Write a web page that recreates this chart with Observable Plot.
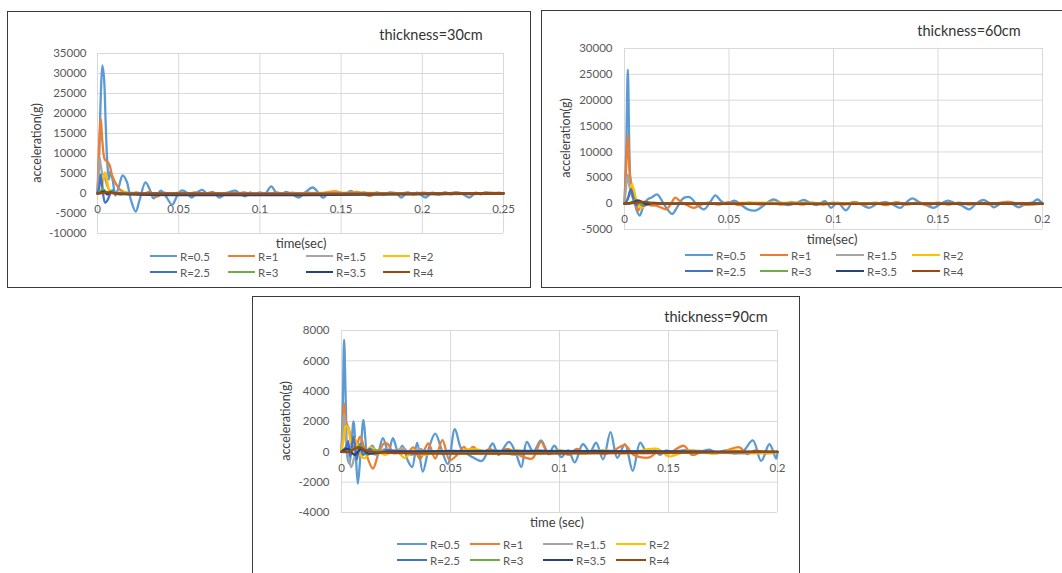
<!DOCTYPE html>
<html>
<head>
<meta charset="utf-8">
<script src="https://cdn.jsdelivr.net/npm/d3@7"></script>
<script src="https://cdn.jsdelivr.net/npm/@observablehq/plot@0.6"></script>
<style>
  html, body { margin: 0; padding: 0; background: #fff; }
  #root { position: relative; width: 1062px; height: 573px; overflow: hidden; background: #fff; font-family: Lato, "Open Sans", sans-serif; }
  .abs { position: absolute; white-space: nowrap; }
  .box { position: absolute; box-sizing: border-box; border: 1.5px solid #3a3a3a; background: transparent; pointer-events: none; z-index: 5; }
  .ctr { transform: translate(-50%, -50%); }
  .rot { transform: translate(-50%, -50%) rotate(-90deg); }
  .sw { position: absolute; height: 2.5px; }
  .lt { position: absolute; transform: translateY(-50%); color: #595959; font-size: 11.5px; white-space: nowrap; }
</style>
</head>
<body>
<div id="root"></div>
<script>
// ---------- series definitions ----------
const seriesNames = ["R=0.5", "R=1", "R=1.5", "R=2", "R=2.5", "R=3", "R=3.5", "R=4"];
const seriesColors = ["#5B9BD5", "#ED7D31", "#A5A5A5", "#FFC000", "#4472C4", "#70AD47", "#264478", "#9E480E"];

// ---------- thickness = 30cm : [time (sec), acceleration (g)] ----------
const p30_titles = ["thickness=30cm", "time(sec)", "acceleration(g)"];
const p30_xTicks = [0, 0.05, 0.1, 0.15, 0.2, 0.25];
const p30_xLabels = ["0", "0.05", "0.1", "0.15", "0.2", "0.25"];
const p30_yTicks = [-10000, -5000, 0, 5000, 10000, 15000, 20000, 25000, 30000, 35000];
const p30_R05 = [[0,0],[0.001,9000],[0.002,24000],[0.003,32000],[0.004,29000],[0.005,18000],[0.006,8000],[0.007,3500],[0.008,5500],[0.0095,3000],[0.011,-500],[0.013,1500],[0.0155,4500],[0.018,3000],[0.0205,-1500],[0.0235,-4500],[0.026,-1500],[0.0295,2800],[0.032,1200],[0.0345,-1200],[0.037,-200],[0.039,700],[0.042,-600],[0.046,-2800],[0.049,-600],[0.052,800],[0.055,200],[0.058,-1000],[0.0615,300],[0.0645,900],[0.068,-200],[0.071,400],[0.075,-1000],[0.078,-300],[0.081,300],[0.085,700],[0.088,-200],[0.091,-700],[0.094,300],[0.097,-400],[0.1,200],[0.103,-200],[0.107,1800],[0.11,200],[0.113,-300],[0.116,400],[0.12,-200],[0.124,-1000],[0.128,300],[0.1325,1500],[0.136,200],[0.139,-1100],[0.142,100],[0.145,-300],[0.149,300],[0.152,-200],[0.156,650],[0.16,-200],[0.164,300],[0.168,-300],[0.172,200],[0.176,-200],[0.18,200],[0.184,100],[0.187,-1000],[0.191,300],[0.194,-200],[0.197,200],[0.202,-1000],[0.206,200],[0.21,-300],[0.214,300],[0.218,-200],[0.22,250],[0.224,100],[0.229,-1000],[0.233,200],[0.236,-200],[0.239,250],[0.243,-100],[0.247,200],[0.25,0]];
const p30_R1 = [[0,0],[0.001,12000],[0.002,18800],[0.003,13000],[0.0045,8500],[0.006,8000],[0.0075,7000],[0.009,4500],[0.0115,2300],[0.014,900],[0.017,300],[0.02,-200],[0.024,300],[0.028,-200],[0.032,400],[0.0345,-300],[0.0366,-800],[0.041,200],[0.045,-300],[0.05,200],[0.055,-300],[0.06,300],[0.065,-200],[0.07,300],[0.075,-200],[0.08,200],[0.085,-300],[0.09,300],[0.095,-200],[0.1,200],[0.105,-300],[0.11,300],[0.115,-200],[0.12,200],[0.125,-300],[0.13,200],[0.135,-400],[0.14,200],[0.147,500],[0.152,-300],[0.156,200],[0.16,400],[0.168,-600],[0.172,200],[0.176,-300],[0.18,200],[0.185,-200],[0.19,200],[0.195,-200],[0.2,200],[0.21,-200],[0.22,200],[0.23,-200],[0.24,200],[0.25,0]];
const p30_R15 = [[0,0],[0.0007,5000],[0.0013,9000],[0.002,7000],[0.003,5000],[0.004,4500],[0.0055,2500],[0.007,1000],[0.009,300],[0.012,-100],[0.016,200],[0.02,0],[0.03,100],[0.05,0],[0.1,0],[0.15,100],[0.2,0],[0.25,0]];
const p30_R2 = [[0,0],[0.002,300],[0.0035,3500],[0.0047,5300],[0.0057,4000],[0.0067,1500],[0.008,400],[0.01,200],[0.013,-200],[0.016,400],[0.02,100],[0.03,-100],[0.06,100],[0.1,-100],[0.145,200],[0.2,0],[0.25,0]];
const p30_R25 = [[0,0],[0.001,1500],[0.002,4800],[0.003,1500],[0.0047,-2300],[0.006,-1800],[0.0075,-400],[0.009,800],[0.011,200],[0.014,-200],[0.018,100],[0.03,0],[0.25,0]];
const p30_R3 = [[0,0],[0.002,600],[0.003,1200],[0.004,900],[0.006,300],[0.008,600],[0.011,100],[0.015,200],[0.02,0],[0.25,0]];
const p30_R35 = [[0,0],[0.002,200],[0.004,500],[0.006,-200],[0.008,300],[0.011,0],[0.25,0]];
const p30_R4 = [[0,0],[0.003,100],[0.006,300],[0.009,100],[0.012,0],[0.25,0]];

// ---------- thickness = 60cm ----------
const p60_titles = ["thickness=60cm", "time(sec)", "acceleration(g)"];
const p60_xTicks = [0, 0.05, 0.1, 0.15, 0.2];
const p60_xLabels = ["0", "0.05", "0.1", "0.15", "0.2"];
const p60_yTicks = [-5000, 0, 5000, 10000, 15000, 20000, 25000, 30000];
const p60_R05 = [[0,0],[0.0008,10000],[0.0016,25900],[0.0024,9000],[0.003,3500],[0.0045,1200],[0.006,-1500],[0.0073,-2300],[0.009,-500],[0.011,800],[0.013,1200],[0.0156,1800],[0.018,500],[0.02,-800],[0.0228,-2000],[0.025,-800],[0.0275,800],[0.029,1200],[0.0315,1200],[0.034,100],[0.038,-1100],[0.041,300],[0.0435,1600],[0.046,600],[0.049,-100],[0.0525,600],[0.056,-300],[0.059,-1100],[0.063,-1300],[0.067,-200],[0.0713,800],[0.075,100],[0.0785,-300],[0.0825,200],[0.0858,700],[0.089,100],[0.092,-300],[0.096,500],[0.0988,-800],[0.102,200],[0.106,-1300],[0.109,200],[0.112,100],[0.117,-800],[0.121,0],[0.125,300],[0.128,-100],[0.132,-800],[0.135,300],[0.1377,1000],[0.141,300],[0.144,-200],[0.148,-800],[0.151,-100],[0.1547,600],[0.158,100],[0.161,-300],[0.165,-1100],[0.168,-100],[0.1717,700],[0.1745,100],[0.1765,-700],[0.18,0],[0.184,300],[0.1887,-700],[0.192,0],[0.195,200],[0.1976,800],[0.2,0]];
const p60_R1 = [[0,0],[0.0008,7000],[0.0016,13400],[0.0025,6000],[0.0035,3500],[0.0045,2500],[0.0055,300],[0.0065,-1400],[0.008,-200],[0.01,300],[0.012,-300],[0.015,-400],[0.0178,-800],[0.02,-1100],[0.022,-200],[0.0243,1150],[0.027,300],[0.03,-300],[0.033,-800],[0.036,-300],[0.04,200],[0.045,-200],[0.05,300],[0.055,-300],[0.06,200],[0.065,-200],[0.07,200],[0.075,-200],[0.08,300],[0.085,-200],[0.09,200],[0.095,-200],[0.1,200],[0.105,-200],[0.11,300],[0.115,-200],[0.12,200],[0.125,-300],[0.13,300],[0.135,-200],[0.14,200],[0.145,-300],[0.15,200],[0.155,-200],[0.16,200],[0.165,-200],[0.17,200],[0.175,-200],[0.18,200],[0.185,300],[0.19,-200],[0.2,0]];
const p60_R15 = [[0,0],[0.0008,3500],[0.0016,5600],[0.0025,3000],[0.0035,1500],[0.005,300],[0.007,-300],[0.01,100],[0.02,0],[0.05,100],[0.1,0],[0.2,0]];
const p60_R2 = [[0,0],[0.002,1500],[0.0035,3700],[0.0045,2500],[0.006,200],[0.008,-800],[0.01,-300],[0.013,100],[0.02,0],[0.05,100],[0.06,200],[0.1,100],[0.15,0],[0.2,0]];
const p60_R25 = [[0,0],[0.0015,800],[0.003,2800],[0.004,1500],[0.0055,-300],[0.007,200],[0.009,-400],[0.012,100],[0.02,0],[0.2,0]];
const p60_R3 = [[0,0],[0.003,200],[0.005,700],[0.007,200],[0.009,-200],[0.012,100],[0.02,0],[0.2,0]];
const p60_R35 = [[0,0],[0.004,200],[0.006,600],[0.008,400],[0.01,-100],[0.014,100],[0.02,0],[0.2,0]];
const p60_R4 = [[0,0],[0.004,100],[0.007,300],[0.01,350],[0.013,100],[0.02,0],[0.2,0]];

// ---------- thickness = 90cm ----------
const p90_titles = ["thickness=90cm", "time (sec)", "acceleration(g)"];
const p90_xTicks = [0, 0.05, 0.1, 0.15, 0.2];
const p90_xLabels = ["0", "0.05", "0.1", "0.15", "0.2"];
const p90_yTicks = [-4000, -2000, 0, 2000, 4000, 6000, 8000];
const p90_R05 = [[0,0],[0.0006,3000],[0.0012,7400],[0.002,3000],[0.0028,-400],[0.0037,-800],[0.0055,2000],[0.0065,0],[0.0075,-2100],[0.0088,0],[0.0101,2100],[0.012,-150],[0.014,400],[0.0165,-100],[0.019,900],[0.0215,0],[0.0236,900],[0.026,0],[0.028,400],[0.0305,-600],[0.0324,-1000],[0.0347,600],[0.0373,-1300],[0.04,200],[0.043,1200],[0.046,100],[0.0488,-800],[0.052,1500],[0.055,200],[0.0595,-300],[0.0644,-600],[0.067,0],[0.0694,550],[0.072,-200],[0.0768,650],[0.08,-100],[0.0825,-1000],[0.085,650],[0.088,0],[0.0915,750],[0.095,-100],[0.0977,400],[0.1008,-350],[0.104,100],[0.107,-700],[0.1107,500],[0.114,0],[0.1168,600],[0.12,-500],[0.1234,1300],[0.1265,-400],[0.13,500],[0.1336,-1250],[0.137,600],[0.14,0],[0.143,200],[0.146,-200],[0.149,100],[0.152,-100],[0.155,50],[0.158,100],[0.161,-200],[0.165,0],[0.169,150],[0.172,-100],[0.176,100],[0.18,-100],[0.184,0],[0.1887,750],[0.1925,-600],[0.1963,500],[0.1994,-450],[0.2,0]];
const p90_R1 = [[0,0],[0.0006,1500],[0.0012,3200],[0.002,2000],[0.0034,1500],[0.005,400],[0.0065,200],[0.0085,1000],[0.011,0],[0.0144,-1100],[0.017,-100],[0.0195,550],[0.0213,500],[0.024,-100],[0.027,200],[0.03,-100],[0.033,300],[0.036,-470],[0.0398,550],[0.043,-440],[0.0463,770],[0.0496,-550],[0.053,-200],[0.0562,330],[0.058,0],[0.0603,330],[0.064,-100],[0.068,200],[0.072,-150],[0.076,200],[0.08,-100],[0.0874,-440],[0.0915,660],[0.095,-150],[0.1,100],[0.104,-200],[0.108,200],[0.112,-100],[0.116,100],[0.12,-150],[0.125,100],[0.13,440],[0.134,-200],[0.1413,-370],[0.145,0],[0.15,-100],[0.157,400],[0.161,-200],[0.165,0],[0.17,-100],[0.175,0],[0.1826,300],[0.186,-150],[0.19,100],[0.195,-100],[0.2,0]];
const p90_R15 = [[0,0],[0.0006,1200],[0.0012,2500],[0.002,1000],[0.003,-200],[0.0045,-1000],[0.006,-300],[0.0075,300],[0.009,-200],[0.012,100],[0.016,-200],[0.02,200],[0.025,-100],[0.028,300],[0.032,-200],[0.036,200],[0.04,-100],[0.05,100],[0.06,-100],[0.07,100],[0.08,-200],[0.09,100],[0.1,-100],[0.12,100],[0.14,-100],[0.16,100],[0.18,-100],[0.2,0]];
const p90_R2 = [[0,0],[0.001,800],[0.002,1700],[0.003,1600],[0.0045,600],[0.006,900],[0.0075,200],[0.009,-300],[0.011,-400],[0.013,300],[0.016,100],[0.02,-200],[0.025,100],[0.029,-400],[0.033,100],[0.038,-200],[0.045,100],[0.05,-100],[0.06,200],[0.07,-100],[0.08,100],[0.09,-100],[0.1,100],[0.11,-100],[0.12,100],[0.13,-100],[0.145,200],[0.15,-300],[0.16,100],[0.17,-100],[0.18,100],[0.19,-100],[0.2,0]];
const p90_R25 = [[0,0],[0.002,300],[0.003,700],[0.004,-300],[0.0055,1000],[0.007,-500],[0.0085,500],[0.01,-200],[0.013,200],[0.016,-100],[0.02,100],[0.03,0],[0.2,0]];
const p90_R3 = [[0,0],[0.003,100],[0.006,200],[0.009,400],[0.012,-200],[0.015,100],[0.02,0],[0.2,0]];
const p90_R35 = [[0,0],[0.003,200],[0.006,-200],[0.009,200],[0.012,-100],[0.02,0],[0.2,0]];
const p90_R4 = [[0,0],[0.003,0],[0.006,200],[0.0085,300],[0.011,100],[0.014,0],[0.2,0]];

// ---------- layout ----------
const root = document.getElementById("root");

function addText(txt, x, y, cls, style) {
  const d = document.createElement("div");
  d.className = "abs " + cls;
  d.textContent = txt;
  d.style.left = x + "px";
  d.style.top = y + "px";
  Object.assign(d.style, style || {});
  root.appendChild(d);
}

function drawPanel(cfg) {
  const marks = [
    Plot.gridY(cfg.yTicks, {stroke: "#d9d9d9", strokeOpacity: 1, strokeWidth: 1}),
    Plot.gridX(cfg.xTicks, {stroke: "#d9d9d9", strokeOpacity: 1, strokeWidth: 1}),
    Plot.axisY(cfg.yTicks, {tickSize: 0, tickPadding: cfg.yPad, tickFormat: d => String(d), color: "#595959", label: null}),
    Plot.text(cfg.xTicks, {x: d => d, y: () => 0, text: (d, i) => cfg.xLabels[i], dy: cfg.xDy, fill: "#595959"}),
    ...cfg.series.map((s, i) => Plot.line(s, {x: d => d[0], y: d => d[1], stroke: seriesColors[i], strokeWidth: 2.3, curve: "catmull-rom"}))
  ];
  const svg = Plot.plot({
    width: cfg.w, height: cfg.h,
    marginLeft: cfg.ml, marginRight: cfg.mr, marginTop: cfg.mt, marginBottom: cfg.mb,
    x: {domain: cfg.xDomain, axis: null},
    y: {domain: cfg.yDomain},
    style: {background: "transparent", fontSize: "11.5px", fontFamily: "Lato, 'Open Sans', sans-serif", maxWidth: "none"},
    marks
  });
  svg.style.position = "absolute";
  svg.style.left = cfg.left + "px";
  svg.style.top = cfg.top + "px";
  root.appendChild(svg);

  // titles
  addText(cfg.titles[0], cfg.titlePos[0], cfg.titlePos[1], "ctr", {fontSize: "14.5px", color: "#333"});
  addText(cfg.titles[1], cfg.xlabPos[0], cfg.xlabPos[1], "ctr", {fontSize: "13px", color: "#404040"});
  addText(cfg.titles[2], cfg.ylabPos[0], cfg.ylabPos[1], "rot", {fontSize: "12.5px", color: "#404040"});

  // legend
  seriesNames.forEach((name, i) => {
    const col = i % 4, row = Math.floor(i / 4);
    const x0 = cfg.legCols[col], y0 = cfg.legRows[row];
    const sw = document.createElement("div");
    sw.className = "sw";
    sw.style.left = x0 + "px";
    sw.style.top = (y0 - 1.25) + "px";
    sw.style.width = cfg.legLen + "px";
    sw.style.background = seriesColors[i];
    root.appendChild(sw);
    const t = document.createElement("div");
    t.className = "lt";
    t.textContent = name;
    t.style.left = (x0 + cfg.legLen + 3) + "px";
    t.style.top = y0 + "px";
    root.appendChild(t);
  });

  // border box
  const b = document.createElement("div");
  b.className = "box";
  Object.assign(b.style, {left: cfg.box[0] + "px", top: cfg.box[1] + "px", width: cfg.box[2] + "px", height: cfg.box[3] + "px"});
  root.appendChild(b);
}

drawPanel({
  left: 7, top: 11, w: 524, h: 276, ml: 90, mr: 28, mt: 42, mb: 54,
  xDomain: [0, 0.25], yDomain: [-10000, 35000],
  xTicks: p30_xTicks, xLabels: p30_xLabels, yTicks: p30_yTicks, yPad: 11, xDy: 15.5,
  series: [p30_R05, p30_R1, p30_R15, p30_R2, p30_R25, p30_R3, p30_R35, p30_R4],
  titles: p30_titles, titlePos: [431, 34], xlabPos: [301, 243], ylabPos: [36, 143],
  legCols: [150, 228, 306, 383], legRows: [256, 272], legLen: 27,
  box: [7, 11, 524, 277]
});

drawPanel({
  left: 541, top: 10, w: 521, h: 277, ml: 83, mr: 20, mt: 38, mb: 58,
  xDomain: [0, 0.2], yDomain: [-5000, 30000],
  xTicks: p60_xTicks, xLabels: p60_xLabels, yTicks: p60_yTicks, yPad: 12, xDy: 15.5,
  series: [p60_R05, p60_R1, p60_R15, p60_R2, p60_R25, p60_R3, p60_R35, p60_R4],
  titles: p60_titles, titlePos: [969, 30], xlabPos: [832, 239], ylabPos: [565, 138],
  legCols: [685, 760, 836, 912], legRows: [255, 271], legLen: 28,
  box: [541, 10, 540, 278]
});

drawPanel({
  left: 252, top: 296, w: 547, h: 277, ml: 89, mr: 22, mt: 34, mb: 61,
  xDomain: [0, 0.2], yDomain: [-4000, 8000],
  xTicks: p90_xTicks, xLabels: p90_xLabels, yTicks: p90_yTicks, yPad: 12, xDy: 16,
  series: [p90_R05, p90_R1, p90_R15, p90_R2, p90_R25, p90_R3, p90_R35, p90_R4],
  titles: p90_titles, titlePos: [716, 316], xlabPos: [557, 522], ylabPos: [285, 421],
  legCols: [397, 470, 543, 616], legRows: [544, 560], legLen: 30,
  box: [252, 296, 548, 300]
});
</script>
</body>
</html>
